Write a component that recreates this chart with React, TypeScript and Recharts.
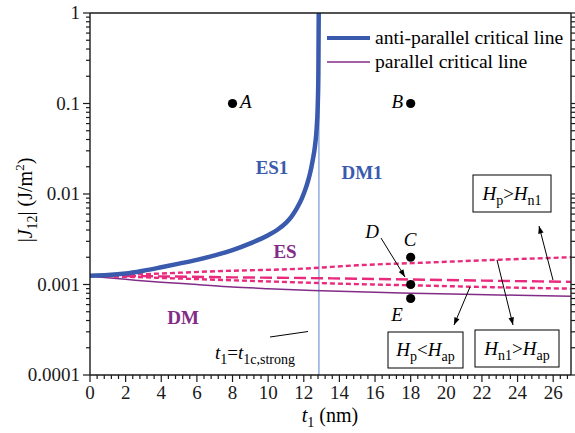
import React from "react";
import {
  LineChart,
  Line,
  Scatter,
  XAxis,
  YAxis,
  ReferenceLine,
} from "recharts";

// critical lines, t1 in nm, |J12| in J/m^2
const antiParallel = [
  { t: 0, j: 0.00125 },
  { t: 1, j: 0.00127 },
  { t: 2, j: 0.00132 },
  { t: 3, j: 0.00142 },
  { t: 4, j: 0.00155 },
  { t: 5, j: 0.0017 },
  { t: 6, j: 0.00187 },
  { t: 7, j: 0.0021 },
  { t: 8, j: 0.0024 },
  { t: 9, j: 0.00285 },
  { t: 10, j: 0.0035 },
  { t: 10.5, j: 0.004 },
  { t: 11, j: 0.0048 },
  { t: 11.3, j: 0.0056 },
  { t: 11.6, j: 0.0069 },
  { t: 11.9, j: 0.009 },
  { t: 12.15, j: 0.0122 },
  { t: 12.35, j: 0.0168 },
  { t: 12.5, j: 0.0235 },
  { t: 12.63, j: 0.034 },
  { t: 12.72, j: 0.052 },
  { t: 12.78, j: 0.09 },
  { t: 12.82, j: 0.22 },
  { t: 12.845, j: 1.5 },
];

const parallel = [
  { t: 0, j: 0.00123 },
  { t: 2, j: 0.00114 },
  { t: 4, j: 0.00106 },
  { t: 6, j: 0.001 },
  { t: 8, j: 0.00094 },
  { t: 10, j: 0.0009 },
  { t: 12.5, j: 0.00086 },
  { t: 15, j: 0.00083 },
  { t: 18, j: 0.0008 },
  { t: 21, j: 0.00078 },
  { t: 24, j: 0.00076 },
  { t: 27, j: 0.00074 },
];

// H_p > H_n1 (upper dotted), H_n1 > H_ap (dashed), H_p < H_ap (lower dotted)
const upperDotted = [
  { t: 0, j: 0.00125 },
  { t: 3, j: 0.0013 },
  { t: 7, j: 0.0014 },
  { t: 12, j: 0.0015 },
  { t: 15, j: 0.00163 },
  { t: 19, j: 0.00175 },
  { t: 23, j: 0.00188 },
  { t: 27, j: 0.002 },
];

const middleDashed = [
  { t: 0, j: 0.00125 },
  { t: 4, j: 0.00123 },
  { t: 8, j: 0.0012 },
  { t: 12, j: 0.00118 },
  { t: 16, j: 0.00115 },
  { t: 20, j: 0.00112 },
  { t: 24, j: 0.00109 },
  { t: 27, j: 0.00107 },
];

const lowerDotted = [
  { t: 0, j: 0.00125 },
  { t: 3, j: 0.0012 },
  { t: 7, j: 0.00113 },
  { t: 12, j: 0.00105 },
  { t: 15, j: 0.00101 },
  { t: 19, j: 0.00097 },
  { t: 23, j: 0.00093 },
  { t: 27, j: 0.0009 },
];

const markPoints = [
  { t: 8, j: 0.1, name: "A" },
  { t: 18, j: 0.1, name: "B" },
  { t: 18, j: 0.002, name: "C" },
  { t: 18, j: 0.001, name: "D" },
  { t: 18, j: 0.0007, name: "E" },
];

const tCritical = 12.85;

const yMajor = [0.0001, 0.001, 0.01, 0.1, 1];
const yTicks = [1, ...[-4, -3, -2, -1].flatMap((p) =>
  [1, 2, 3, 4, 5, 6, 7, 8, 9].map((m) => m * Math.pow(10, p))
)];
const xTicks = Array.from({ length: 68 }, (_, k) => (k * 4) / 10);

const SERIF = "'Liberation Serif', 'Times New Roman', serif";
const INK = "#1a1a1a";
const BLUE = "#3a5aad";
const PURPLE = "#822c88";
const PINK = "#ea2a7d";

const isMajorX = (v: number) => Math.abs(v / 2 - Math.round(v / 2)) < 1e-6;
const isMajorY = (v: number) => yMajor.some((m) => Math.abs(v / m - 1) < 1e-6);

function BottomTick(props: any) {
  const { x, y, payload } = props;
  const major = isMajorX(payload.value);
  return (
    <g>
      <line x1={x} y1={y} x2={x} y2={y + (major ? 7 : 4)} stroke={INK} strokeWidth={1.2} />
      {major && (
        <text x={x} y={y + 24} textAnchor="middle" fontFamily={SERIF} fontSize={19} fill={INK}>
          {Math.round(payload.value)}
        </text>
      )}
    </g>
  );
}

function TopTick(props: any) {
  const { x, y, payload } = props;
  const major = isMajorX(payload.value);
  return <line x1={x} y1={y} x2={x} y2={y - (major ? 7 : 4)} stroke={INK} strokeWidth={1.2} />;
}

function LeftTick(props: any) {
  const { x, y, payload } = props;
  const major = isMajorY(payload.value);
  return (
    <g>
      <line x1={x} y1={y} x2={x - (major ? 7 : 4)} y2={y} stroke={INK} strokeWidth={1.2} />
      {major && (
        <text x={x - 10} y={y + 6} textAnchor="end" fontFamily={SERIF} fontSize={19} fill={INK}>
          {String(payload.value)}
        </text>
      )}
    </g>
  );
}

function RightTick(props: any) {
  const { x, y, payload } = props;
  const major = isMajorY(payload.value);
  return <line x1={x} y1={y} x2={x + (major ? 7 : 4)} y2={y} stroke={INK} strokeWidth={1.2} />;
}

function Dot(props: any) {
  const { cx, cy } = props;
  return <circle cx={cx} cy={cy} r={4.6} fill="#000" />;
}

function Arrow({ x1, y1, x2, y2 }: { x1: number; y1: number; x2: number; y2: number }) {
  const a = Math.atan2(y2 - y1, x2 - x1);
  const L = 8;
  const w = 0.35;
  const p1 = [x2 - L * Math.cos(a - w), y2 - L * Math.sin(a - w)];
  const p2 = [x2 - L * Math.cos(a + w), y2 - L * Math.sin(a + w)];
  return (
    <g>
      <line x1={x1} y1={y1} x2={x2} y2={y2} stroke="#000" strokeWidth={1} />
      <polygon points={`${x2},${y2} ${p1[0]},${p1[1]} ${p2[0]},${p2[1]}`} fill="#000" />
    </g>
  );
}

function HBox({ x, y, w, h, a, b, c }: any) {
  return (
    <g>
      <rect x={x} y={y} width={w} height={h} fill="#fff" stroke="#000" strokeWidth={1} />
      <text x={x + w / 2} y={y + h / 2 + 6} textAnchor="middle" fontFamily={SERIF} fontSize={19} fill="#000">
        <tspan fontStyle="italic">H</tspan>
        <tspan fontSize={14} dy={5}>{a}</tspan>
        <tspan dy={-5}>{b}</tspan>
        <tspan fontStyle="italic">H</tspan>
        <tspan fontSize={14} dy={5}>{c}</tspan>
      </text>
    </g>
  );
}

function Overlay() {
  const txt = { fontFamily: SERIF, fontSize: 19, fill: "#000" };
  const bold = { fontFamily: SERIF, fontSize: 19, fontWeight: 700 };
  return (
    <svg width={575} height={433} style={{ position: "absolute", left: 0, top: 0, pointerEvents: "none" }}>
      {/* legend */}
      <line x1={327} y1={38} x2={370} y2={38} stroke={BLUE} strokeWidth={4} />
      <text x={375} y={44} {...txt} fontSize={19.6}>anti-parallel critical line</text>
      <line x1={327} y1={62} x2={370} y2={62} stroke={PURPLE} strokeWidth={1.5} />
      <text x={375} y={68} {...txt} fontSize={19.6}>parallel critical line</text>

      {/* axis titles */}
      <text transform="rotate(-90 25 200)" x={25} y={207} textAnchor="middle" {...txt} fontSize={20}>
        |<tspan fontStyle="italic">J</tspan>
        <tspan fontSize={14} dy={5}>12</tspan>
        <tspan dy={-5}>| (J/m</tspan>
        <tspan fontSize={13} dy={-8}>2</tspan>
        <tspan dy={8}>)</tspan>
      </text>
      <text x={330} y={422} textAnchor="middle" {...txt} fontSize={20}>
        <tspan fontStyle="italic">t</tspan>
        <tspan fontSize={14} dy={5}>1</tspan>
        <tspan dy={-5}> (nm)</tspan>
      </text>

      {/* point labels */}
      <text x={240} y={108} {...txt} fontStyle="italic">A</text>
      <text x={403} y={108} textAnchor="end" {...txt} fontStyle="italic">B</text>
      <text x={410} y={246} textAnchor="middle" {...txt} fontStyle="italic">C</text>
      <text x={372} y={238} textAnchor="middle" {...txt} fontStyle="italic">D</text>
      <text x={397} y={321} textAnchor="middle" {...txt} fontStyle="italic">E</text>

      {/* region labels */}
      <text x={272} y={174} textAnchor="middle" {...bold} fill={BLUE}>ES1</text>
      <text x={362} y={179} textAnchor="middle" {...bold} fill={BLUE}>DM1</text>
      <text x={285} y={258} textAnchor="middle" {...bold} fill={PURPLE}>ES</text>
      <text x={183} y={324} textAnchor="middle" {...bold} fill={PURPLE}>DM</text>

      {/* t1 = t1c,strong */}
      <line x1={270} y1={337} x2={308} y2={331.5} stroke="#000" strokeWidth={1} />
      <text x={215} y={359} {...txt}>
        <tspan fontStyle="italic">t</tspan>
        <tspan fontSize={14} dy={5}>1</tspan>
        <tspan dy={-5}>=</tspan>
        <tspan fontStyle="italic">t</tspan>
        <tspan fontSize={14} dy={5}>1c,strong</tspan>
      </text>

      {/* arrows and boxes */}
      <Arrow x1={381} y1={238} x2={405} y2={277} />
      <Arrow x1={553} y1={280} x2={539} y2={226} />
      <Arrow x1={470} y1={287} x2={454} y2={325} />
      <Arrow x1={497} y1={260} x2={513} y2={325} />
      <HBox x={473} y={175} w={78} h={37} a="p" b=">" c="n1" />
      <HBox x={388} y={332} w={75} h={36} a="p" b="<" c="ap" />
      <HBox x={475} y={330} w={84} h={37} a="n1" b=">" c="ap" />
    </svg>
  );
}

export default function App() {
  return (
    <div style={{ position: "absolute", left: 0, top: 0, width: 575, height: 433, background: "#fff" }}>
      <LineChart width={575} height={433} margin={{ top: 12, right: 3, bottom: 28, left: 20 }}>
        <XAxis
          xAxisId="b"
          dataKey="t"
          type="number"
          domain={[0, 27]}
          ticks={xTicks}
          interval={0}
          tickSize={0}
          tickMargin={0}
          tick={<BottomTick />}
          height={30}
          stroke={INK}
          strokeWidth={1.4}
        />
        <XAxis
          xAxisId="t"
          orientation="top"
          dataKey="t"
          type="number"
          domain={[0, 27]}
          ticks={xTicks}
          interval={0}
          tickSize={0}
          tickMargin={0}
          tick={<TopTick />}
          height={1}
          stroke={INK}
          strokeWidth={1.4}
        />
        <YAxis
          yAxisId="l"
          dataKey="j"
          type="number"
          scale="log"
          domain={[0.0001, 1]}
          allowDataOverflow
          ticks={yTicks}
          interval={0}
          tickSize={0}
          tickMargin={0}
          tick={<LeftTick />}
          width={70}
          stroke={INK}
          strokeWidth={1.4}
        />
        <YAxis
          yAxisId="r"
          orientation="right"
          dataKey="j"
          type="number"
          scale="log"
          domain={[0.0001, 1]}
          allowDataOverflow
          ticks={yTicks}
          interval={0}
          tickSize={0}
          tickMargin={0}
          tick={<RightTick />}
          width={1}
          stroke={INK}
          strokeWidth={1.4}
        />
        <ReferenceLine xAxisId="b" yAxisId="l" x={tCritical} stroke="#7f9ddb" strokeWidth={1.3} />
        <Line
          xAxisId="b"
          yAxisId="l"
          data={parallel}
          dataKey="j"
          type="monotone"
          stroke={PURPLE}
          strokeWidth={1.5}
          dot={false}
          isAnimationActive={false}
        />
        <Line
          xAxisId="b"
          yAxisId="l"
          data={upperDotted}
          dataKey="j"
          type="monotone"
          stroke={PINK}
          strokeWidth={2.4}
          strokeDasharray="5 3"
          dot={false}
          isAnimationActive={false}
        />
        <Line
          xAxisId="b"
          yAxisId="l"
          data={middleDashed}
          dataKey="j"
          type="monotone"
          stroke={PINK}
          strokeWidth={2.4}
          strokeDasharray="12 5"
          dot={false}
          isAnimationActive={false}
        />
        <Line
          xAxisId="b"
          yAxisId="l"
          data={lowerDotted}
          dataKey="j"
          type="monotone"
          stroke={PINK}
          strokeWidth={2.4}
          strokeDasharray="5 3"
          dot={false}
          isAnimationActive={false}
        />
        <Line
          xAxisId="b"
          yAxisId="l"
          data={antiParallel}
          dataKey="j"
          type="monotone"
          stroke={BLUE}
          strokeWidth={4.5}
          dot={false}
          isAnimationActive={false}
        />
        <Scatter
          xAxisId="b"
          yAxisId="l"
          data={markPoints}
          dataKey="j"
          shape={<Dot />}
          isAnimationActive={false}
        />
      </LineChart>
      <Overlay />
    </div>
  );
}
